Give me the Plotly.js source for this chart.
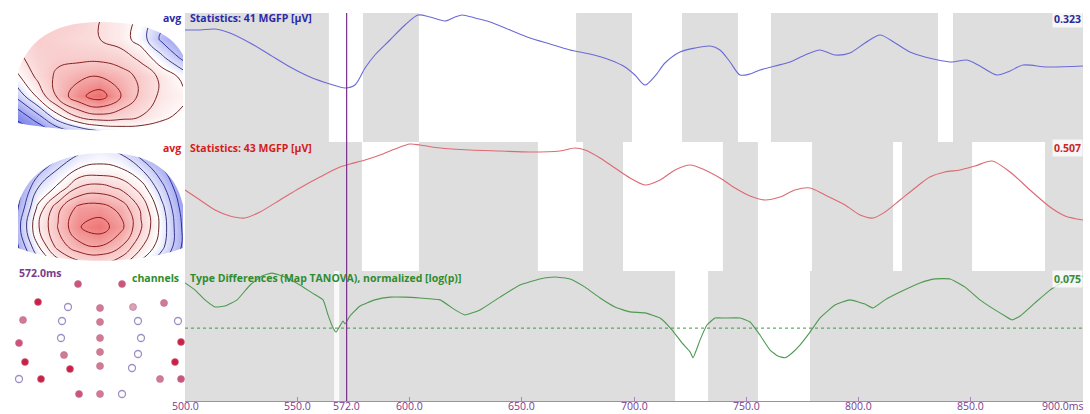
<!DOCTYPE html>
<html>
<head>
<meta charset="utf-8">
<script src="https://cdn.plot.ly/plotly-3.0.1.min.js"></script>
<style>
  html, body { margin: 0; padding: 0; background: #fff; }
  #chart { width: 1090px; height: 414px; }
</style>
</head>
<body>
<div id="chart"></div>
<script>
// ---- Statistics: 41 MGFP [µV] (blue) ----
const timeBlue = [500.0,506.7,513.4,520.0,529.0,537.9,546.8,555.7,564.6,571.3,575.7,580.2,584.6,591.3,598.0,603.8,609.1,615.8,620.3,623.4,629.2,635.9,644.8,653.7,662.6,671.5,680.4,689.3,696.0,700.4,704.9,709.4,713.8,720.5,727.2,733.9,738.3,742.8,747.2,751.7,756.1,762.8,769.5,776.2,782.8,789.5,796.2,802.9,809.6,816.3,822.9,829.6,835.4,841.6,848.3,854.1,861.7,867.5,873.3,884.0,900.0];
const mgfpBlue = [0.2804,0.2804,0.2829,0.2729,0.2479,0.2178,0.1878,0.1628,0.1452,0.1352,0.1427,0.1853,0.2178,0.2554,0.2930,0.3180,0.3130,0.3030,0.3130,0.3180,0.3105,0.3005,0.2804,0.2604,0.2454,0.2304,0.2203,0.2053,0.1878,0.1678,0.1427,0.1653,0.1978,0.2254,0.2354,0.2404,0.2304,0.2003,0.1678,0.1703,0.1803,0.1903,0.2003,0.2178,0.2304,0.2178,0.2229,0.2479,0.2679,0.2479,0.2254,0.2128,0.2053,0.2003,0.2053,0.1903,0.1678,0.1778,0.1928,0.1878,0.1903];

// ---- Statistics: 43 MGFP [µV] (red) ----
const timeRed = [500.0,506.7,513.4,520.0,526.7,533.4,542.3,551.2,560.1,569.0,573.5,580.2,586.9,593.5,600.2,604.7,613.6,626.9,640.3,653.7,667.0,673.7,678.2,684.9,691.5,698.2,704.9,711.6,718.3,725.0,731.6,738.3,745.0,751.7,758.4,765.0,771.7,778.4,785.1,794.0,800.7,806.5,811.8,818.5,825.2,831.8,838.5,845.2,851.9,859.5,867.5,876.4,885.3,892.0,900.0];
const mgfpRed = [0.3183,0.2790,0.2397,0.2162,0.2083,0.2319,0.2790,0.3262,0.3694,0.4087,0.4205,0.4363,0.4559,0.4795,0.4991,0.4952,0.4834,0.4756,0.4716,0.4677,0.4716,0.4834,0.4756,0.4441,0.4048,0.3655,0.3380,0.3576,0.3970,0.4166,0.3970,0.3655,0.3262,0.2948,0.2790,0.2908,0.3183,0.3262,0.2987,0.2594,0.2201,0.2083,0.2319,0.2790,0.3262,0.3694,0.3891,0.3970,0.4127,0.4323,0.3891,0.3183,0.2515,0.2162,0.2004];

// ---- Type Differences (Map TANOVA), p-values (green) ----
const timeGreen = [500.0,504.5,508.9,513.4,517.8,523.2,529.0,534.3,538.8,544.5,551.2,556.6,561.5,563.7,565.9,567.3,569.0,570.4,571.3,573.5,578.0,584.6,591.3,598.0,604.7,613.6,620.3,624.7,631.4,640.3,649.2,658.1,664.8,671.5,678.2,684.9,691.5,698.2,704.9,711.6,716.9,721.4,725.0,726.3,728.1,729.4,732.5,736.1,740.5,747.2,751.7,756.1,760.6,764.1,767.3,770.4,774.0,778.4,782.8,789.5,796.2,802.9,806.5,811.8,818.5,827.4,834.1,840.8,847.5,854.1,860.8,865.3,868.4,872.0,878.6,885.3,892.0,900.0];
const pTanova = [0.0689,0.0655,0.0611,0.0581,0.0585,0.0611,0.0679,0.0724,0.0739,0.0719,0.0679,0.0642,0.0611,0.0549,0.0501,0.0486,0.0508,0.0526,0.0515,0.0545,0.0585,0.0611,0.0623,0.0623,0.0619,0.0611,0.0569,0.0549,0.0569,0.0623,0.0679,0.0709,0.0719,0.0709,0.0669,0.0619,0.0581,0.0561,0.0557,0.0537,0.0494,0.0450,0.0422,0.0405,0.0434,0.0459,0.0511,0.0537,0.0537,0.0537,0.0522,0.0476,0.0428,0.0410,0.0405,0.0419,0.0444,0.0486,0.0537,0.0589,0.0611,0.0593,0.0577,0.0611,0.0646,0.0689,0.0709,0.0709,0.0669,0.0611,0.0569,0.0545,0.0530,0.0545,0.0598,0.0655,0.0699,0.0724];
const pThreshold = 0.05;

// time windows drawn without shading, per panel [start, end] in ms
const windowsBlue  = [[564.1,579.3],[604.2,674.2],[699.1,721.4],[746.3,761.0],[835.4,842.1]];
const windowsRed   = [[578.8,604.2],[657.2,677.3],[695.1,739.6],[755.2,779.3],[815.4,819.4],[850.6,883.1]];
const windowsGreen = [[718.3,733.0],[755.2,778.4]];
const windowsGreenFaint = [[566.4,568.7]];

// cursor time and axis ticks
const cursorTime = 572;
const tickValues = [500,550,572,600,650,700,750,800,850,900];
const tickLabels = ['500.0','550.0','572.0','600.0','650.0','700.0','750.0','800.0','850.0','900.0ms'];

// scale maxima shown at the right of each panel
const maxBlue = 0.323, maxRed = 0.507, maxGreen = 0.075;

// ---- topographic maps: grid columns / rows (map pixel units) and potentials ----
const gridX = [17,38,58,79,100,121,141,162,183];
const map1Y = [20,39,58,77,96,116,135];
const map1Z = [
  [0.30,0.35,0.40,0.35,0.25,0.15,0.00,-0.30,-0.55],
  [0.30,0.40,0.35,0.30,0.25,0.15,-0.05,-0.40,-0.65],
  [0.20,0.35,0.40,0.40,0.40,0.35,0.20,-0.10,-0.40],
  [0.00,0.30,0.50,0.60,0.65,0.55,0.40,0.20,0.00],
  [-0.30,0.10,0.50,0.80,0.95,0.65,0.40,0.20,0.10],
  [-0.70,-0.40,0.00,0.30,0.40,0.35,0.25,0.10,0.00],
  [-0.90,-0.80,-0.60,-0.45,-0.30,-0.20,-0.15,-0.10,-0.10]
];
const map2Y = [150,169,188,208,227,246,265];
const map2Z = [
  [-0.90,-0.70,-0.45,-0.20,-0.10,-0.20,-0.45,-0.75,-0.95],
  [-0.75,-0.40,-0.15,0.02,0.05,0.02,-0.15,-0.45,-0.80],
  [-0.60,-0.15,0.05,0.35,0.40,0.30,0.10,-0.25,-0.65],
  [-0.50,0.05,0.45,0.70,0.72,0.60,0.30,-0.10,-0.55],
  [-0.40,0.15,0.50,0.80,0.90,0.70,0.35,-0.05,-0.50],
  [-0.50,0.00,0.40,0.60,0.65,0.50,0.20,-0.10,-0.50],
  [-0.60,-0.25,0.05,0.25,0.30,0.20,-0.05,-0.30,-0.60]
];

// ---- electrode layout and per-channel difference level (0 = none) ----
const elecX = [78,122,38,68,100,133,164,23,62,100,138,178,19,61,100,141,181,64,100,138,25,70,100,132,175,19,41,160,181,79,100,122];
const elecY = [284,284,302,307,308,307,303,320,321,322,321,321,343,338,338,338,342,355,352,354,362,369,366,368,362,379,379,379,379,394,394,394];
const elecLevel = [3,3,4,0,2,1,2,2,0,2,0,0,3,0,2,0,4,2,2,0,4,4,2,0,4,0,4,2,3,3,2,0];

// ---------------------------------------------------------------------
const GRAY = '#dedede';
const FONT = 'Open Sans, sans-serif';
const H = 414, W = 1090;
const py = p => (H - p) / H;   // pixel row -> paper fraction
const px = p => p / W;         // pixel column -> paper fraction

const shapes = [];
function shadePanel(windows, yref) {
  shapes.push({type:'rect', xref:'x', yref: yref + ' domain', x0:500, x1:900, y0:0, y1:1,
               fillcolor:GRAY, line:{width:0}, layer:'below'});
  windows.forEach(w => shapes.push({type:'rect', xref:'x', yref: yref + ' domain',
               x0:w[0], x1:w[1], y0:0, y1:1, fillcolor:'#ffffff', line:{width:0}, layer:'below'}));
}
shadePanel(windowsBlue, 'y');
shadePanel(windowsRed, 'y2');
shadePanel(windowsGreen, 'y3');
windowsGreenFaint.forEach(w => shapes.push({type:'rect', xref:'x', yref:'y3 domain',
  x0:w[0], x1:w[1], y0:0, y1:1, fillcolor:'rgba(255,255,255,0.8)', line:{width:0}, layer:'below'}));

// significance threshold
shapes.push({type:'line', xref:'x', yref:'y3', x0:500, x1:900, y0:pThreshold, y1:pThreshold,
             line:{color:'#3e9a42', width:1, dash:'dot'}, layer:'below'});
// time cursor
shapes.push({type:'line', xref:'x', yref:'paper', x0:cursorTime, x1:cursorTime, y0:py(401), y1:py(13),
             line:{color:'#7b2d8e', width:1.2}});

// white surround leaving a head-shaped window over each map
shapes.push({type:'path', xref:'x2', yref:'y4', fillcolor:'#ffffff', line:{width:0},
  path:'M 12,16 L 185,16 L 185,140 L 12,140 Z M 18,123 C 70,133 130,133 183,120 L 183,55 C 170,30 140,22 100,22 C 60,22 30,35 18,72 Z'});
shapes.push({type:'path', xref:'x3', yref:'y5', fillcolor:'#ffffff', line:{width:0},
  path:'M 12,145 L 185,145 L 185,268 L 12,268 Z M 18,248 C 60,265 140,265 183,248 L 183,205 C 175,170 150,153 105,153 C 60,153 28,170 18,205 Z'});

const fillScale = [[0,'rgb(80,90,225)'],[0.25,'rgb(165,170,240)'],[0.5,'rgb(255,255,255)'],[0.75,'rgb(247,192,192)'],[1,'rgb(236,100,100)']];
const lineScale = [[0,'rgb(25,25,170)'],[0.44,'rgb(60,60,150)'],[0.5,'rgb(30,30,30)'],[0.56,'rgb(120,40,40)'],[1,'rgb(150,25,25)']];

function mapTraces(xa, ya, yv, z, step) {
  return [
    {type:'contour', x:gridX, y:yv, z:z, xaxis:xa, yaxis:ya, zmin:-1, zmax:1,
     colorscale:fillScale, showscale:false, zsmooth:'best', hoverinfo:'skip',
     contours:{coloring:'heatmap', showlines:false, start:-1, end:1, size:0.2}, line:{width:0}},
    {type:'contour', x:gridX, y:yv, z:z, xaxis:xa, yaxis:ya, zmin:-1, zmax:1,
     colorscale:lineScale, showscale:false, hoverinfo:'skip',
     contours:{coloring:'lines', start:-0.95, end:0.95, size:step}, line:{width:1, smoothing:1.3}}
  ];
}

const palette = ['#ffffff','#d9a3b6','#d27a92','#cc5577','#cc1f42'];
const filledIdx = elecLevel.map((l,i) => l > 0 ? i : -1).filter(i => i >= 0);
const hollowIdx = elecLevel.map((l,i) => l === 0 ? i : -1).filter(i => i >= 0);

const traces = [
  {x:timeBlue, y:mgfpBlue, xaxis:'x', yaxis:'y', mode:'lines', line:{color:'#6a6ad8', width:1.1, shape:'spline', smoothing:0.8}, hoverinfo:'skip'},
  {x:timeRed, y:mgfpRed, xaxis:'x', yaxis:'y2', mode:'lines', line:{color:'#dd6a72', width:1.1, shape:'spline', smoothing:0.8}, hoverinfo:'skip'},
  {x:timeGreen, y:pTanova, xaxis:'x', yaxis:'y3', mode:'lines', line:{color:'#4e9a50', width:1.1, shape:'spline', smoothing:0.4}, hoverinfo:'skip'},
  ...mapTraces('x2','y4', map1Y, map1Z, 0.2),
  ...mapTraces('x3','y5', map2Y, map2Z, 0.16),
  {x:filledIdx.map(i => elecX[i]), y:filledIdx.map(i => elecY[i]), xaxis:'x4', yaxis:'y6', mode:'markers',
   marker:{size:7, color:filledIdx.map(i => palette[elecLevel[i]]), line:{width:0.6, color:'#c07090'}}, hoverinfo:'skip'},
  {x:hollowIdx.map(i => elecX[i]), y:hollowIdx.map(i => elecY[i]), xaxis:'x4', yaxis:'y6', mode:'markers',
   marker:{size:7, color:'#ffffff', line:{width:1.3, color:'#9d8fc6'}}, hoverinfo:'skip'}
];

const hidden = {visible:false, showgrid:false, zeroline:false, fixedrange:true};
const mapX = () => Object.assign({}, hidden, {domain:[px(12), px(185)], range:[12,185]});

function label(text, x, y, color, anchor, bg) {
  return {text:text, xref:'paper', yref:'paper', x:x, y:y, xanchor:anchor, yanchor:'middle',
          showarrow:false, font:{family:FONT, size:10.5, color:color, weight:700},
          bgcolor: bg || 'rgba(0,0,0,0)', borderpad:1};
}

const annotations = [
  label('avg', px(183), py(18), '#2a2aa8', 'right'),
  label('Statistics: 41 MGFP [µV]', px(188), py(18), '#2a2aa8', 'left'),
  label(maxBlue.toFixed(3), px(1083), py(19), '#2a2a98', 'right', 'rgba(255,255,255,0.75)'),
  label('avg', px(183), py(148), '#d41c1c', 'right'),
  label('Statistics: 43 MGFP [µV]', px(188), py(148), '#d41c1c', 'left'),
  label(maxRed.toFixed(3), px(1083), py(148), '#c82626', 'right', 'rgba(255,255,255,0.75)'),
  label('channels', px(181), py(278), '#2e8c2e', 'right'),
  label('Type Differences (Map TANOVA), normalized [log(p)]', px(188), py(278), '#2e8c2e', 'left'),
  label(maxGreen.toFixed(3), px(1083), py(279), '#3a8a3a', 'right', 'rgba(255,255,255,0.75)'),
  label(cursorTime.toFixed(1) + 'ms', px(17), py(273), '#7b3a8c', 'left')
];
// time tick labels, the last one right-aligned to the axis end
tickValues.forEach((v, i) => {
  const last = i === tickValues.length - 1;
  annotations.push({text:tickLabels[i], xref:'x', yref:'paper', x:v, y:0,
    xanchor: last ? 'right' : 'center', yanchor:'bottom', xshift: last ? 2 : 0,
    showarrow:false, borderpad:0, font:{family:FONT, size:10.5, color:'#7b3a8c'}});
});

const layout = {
  width:W, height:H, margin:{l:0, r:0, t:0, b:0},
  paper_bgcolor:'#ffffff', plot_bgcolor:'#ffffff', showlegend:false,
  xaxis:{domain:[px(185), px(1083)], range:[500,900], anchor:'y3',
         tickvals:tickValues, showticklabels:false, ticks:'inside', ticklen:4, tickcolor:'#b27fc2',
         showline:true, linecolor:'#b27fc2', linewidth:1, showgrid:false, zeroline:false, fixedrange:true},
  yaxis: Object.assign({}, hidden, {domain:[py(142), py(13)], range:[0, maxBlue], anchor:'x'}),
  yaxis2:Object.assign({}, hidden, {domain:[py(271), py(142)], range:[0, maxRed], anchor:'x'}),
  yaxis3:Object.assign({}, hidden, {domain:[py(401), py(271)], type:'log',
         range:[Math.log10(0.0298), Math.log10(maxGreen)], anchor:'x'}),
  xaxis2:Object.assign(mapX(), {anchor:'y4'}),
  yaxis4:Object.assign({}, hidden, {domain:[py(140), py(16)], range:[140,16], anchor:'x2'}),
  xaxis3:Object.assign(mapX(), {anchor:'y5'}),
  yaxis5:Object.assign({}, hidden, {domain:[py(268), py(145)], range:[268,145], anchor:'x3'}),
  xaxis4:Object.assign(mapX(), {anchor:'y6'}),
  yaxis6:Object.assign({}, hidden, {domain:[py(402), py(276)], range:[402,276], anchor:'x4'}),
  shapes:shapes, annotations:annotations
};

Plotly.newPlot('chart', traces, layout, {displayModeBar:false, staticPlot:true});
</script>
</body>
</html>
